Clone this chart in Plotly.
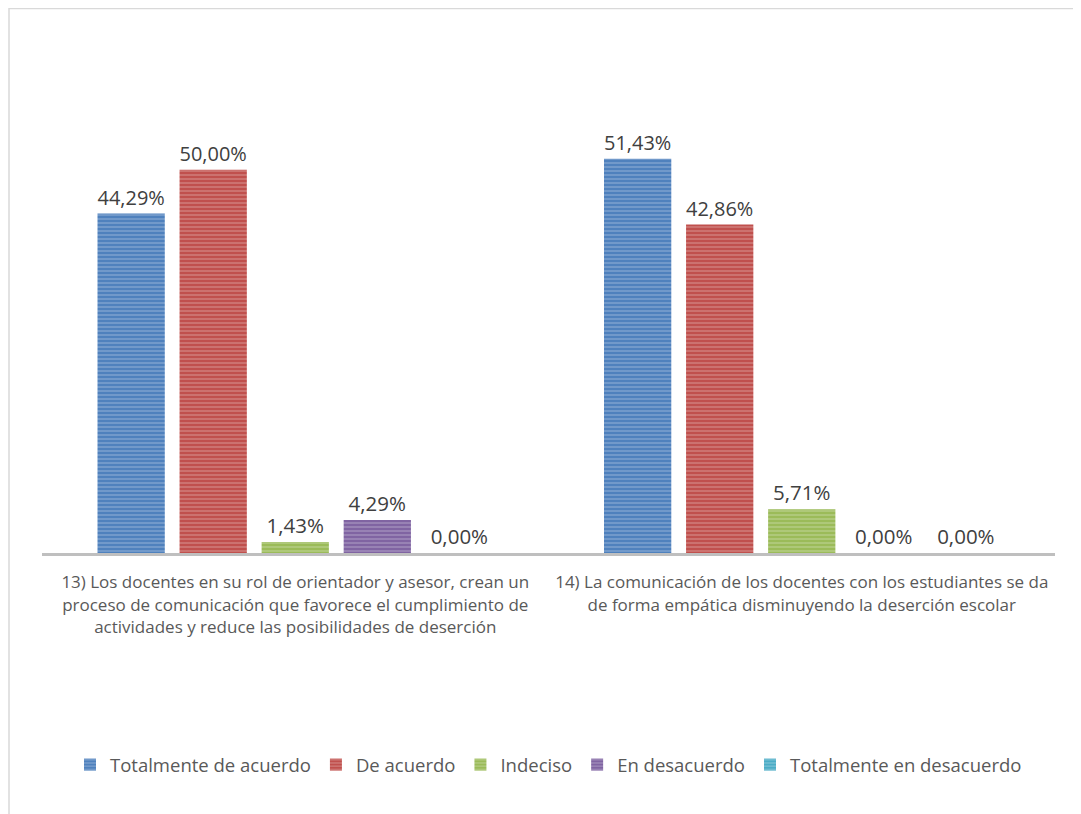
import plotly.graph_objects as go

categories = [
    "13) Los docentes en su rol de orientador y asesor, crean un<br>proceso de comunicación que favorece el cumplimiento de<br>actividades y reduce las posibilidades de deserción",
    "14) La comunicación de los docentes con los estudiantes se da<br>de forma empática disminuyendo la deserción escolar",
]
series_names = ["Totalmente de acuerdo", "De acuerdo", "Indeciso", "En desacuerdo", "Totalmente en desacuerdo"]
totalmente_de_acuerdo = [44.29, 51.43]
de_acuerdo = [50.00, 42.86]
indeciso = [1.43, 5.71]
en_desacuerdo = [4.29, 0.00]
totalmente_en_desacuerdo = [0.00, 0.00]
series_values = [totalmente_de_acuerdo, de_acuerdo, indeciso, en_desacuerdo, totalmente_en_desacuerdo]
colors = ["#4F81BD", "#C0504D", "#9BBB59", "#8064A2", "#4BACC6"]

FONT = "Open Sans"

fig = go.Figure()
for name, vals, col in zip(series_names, series_values, colors):
    fig.add_trace(go.Bar(
        x=[0, 1], y=vals, name=name,
        text=[f"{v:.2f}%".replace(".", ",") for v in vals],
        textposition="outside", cliponaxis=False,
        textfont=dict(size=20.5, color="#404040", family=FONT),
        marker=dict(color=col, line=dict(width=0),
                    pattern=dict(shape="-", fgcolor="rgba(255,255,255,0.55)",
                                 size=4, solidity=0.35, fillmode="overlay")),
    ))

fig.update_layout(
    width=1081, height=814,
    margin=dict(l=34, r=34, t=85, b=269),
    paper_bgcolor="white", plot_bgcolor="white",
    barmode="group", bargap=0.19, bargroupgap=0.18,
    font=dict(family=FONT, color="#595959"),
    showlegend=True,
    legend=dict(orientation="h", x=0.5, xanchor="center", y=-0.461, yanchor="middle",
                font=dict(size=18.5, color="#595959", family=FONT),
                itemwidth=30, traceorder="normal"),
    xaxis=dict(tickmode="array", tickvals=[0, 1], ticktext=categories,
               range=[-0.5, 1.5], showline=True, linecolor="#BFBFBF", linewidth=3,
               ticks="", ticklabelstandoff=12,
               tickfont=dict(size=17, color="#595959", family=FONT),
               showgrid=False, zeroline=False),
    yaxis=dict(range=[0, 60], visible=False, showgrid=False, zeroline=False),
    shapes=[dict(type="rect", xref="paper", yref="paper",
                 x0=(1 - 34) / 1013, x1=1.2, y0=-1.0, y1=(545 - 0.5) / 460,
                 line=dict(color="#D9D9D9", width=1.5), fillcolor="rgba(0,0,0,0)", layer="below")],
)

fig.write_html("out.html")
